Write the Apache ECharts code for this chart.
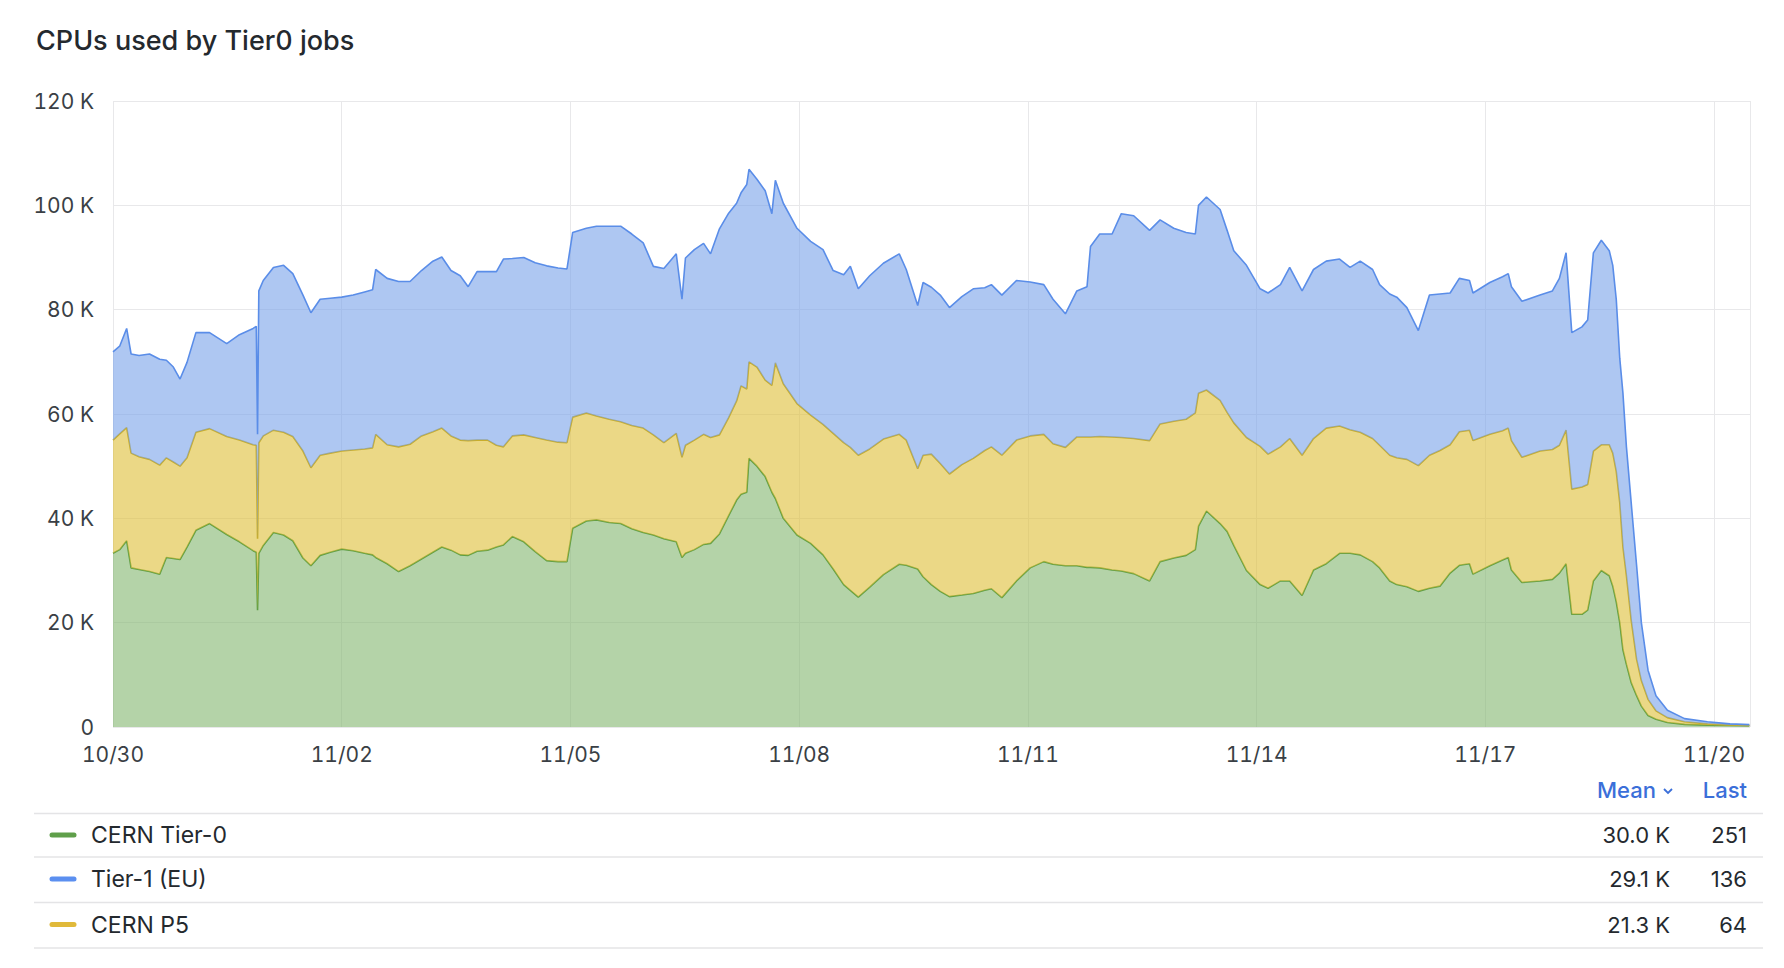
<!DOCTYPE html>
<html>
<head>
<meta charset="utf-8">
<script src="https://cdn.jsdelivr.net/npm/echarts@6/dist/echarts.min.js"></script>
<style>
html,body{margin:0;padding:0;background:#fff;}
#chart{width:1784px;height:968px;}
#chart text{font-variant-numeric: tabular-nums; font-feature-settings: "tnum" 1;}
</style>
</head>
<body>
<div id="chart"></div>
<script>
// Hours since 10/30 00:00
const hours = [0,2.1,4.3,5.7,8.2,11.5,14.7,16.8,19.0,21.1,23.3,26.1,30.4,35.8,39.8,44.1,45.1,45.5,45.9,47.3,50.5,53.7,56.6,59.8,62.3,65.2,68.4,72.0,75.6,79.2,81.7,82.7,86.3,89.9,93.5,97.1,100.7,103.5,106.4,109.3,111.8,114.6,117.9,120.7,122.9,125.7,129.3,132.9,136.5,140.1,142.9,144.7,149.0,152.2,156.2,159.8,163.3,166.9,170.1,173.4,177.3,179.1,180.2,183.0,185.9,188.1,190.9,193.8,196.3,197.7,199.5,200.2,202.7,205.3,207.4,208.5,211.0,215.3,219.6,223.5,226.7,230.0,232.1,234.6,238.2,242.5,247.5,249.7,253.3,255.0,257.6,260.4,263.3,267.2,270.8,274.4,276.5,279.8,284.4,288.7,293.0,295.9,299.8,303.4,306.6,307.7,310.6,314.5,317.4,321.3,326.3,329.6,333.9,337.8,340.7,341.7,344.2,348.5,350.7,352.8,356.8,361.1,363.6,367.5,370.4,374.3,377.9,381.9,386.1,389.4,392.6,396.5,398.7,401.9,404.1,407.3,410.9,414.4,417.7,420.9,423.8,427.0,428.1,433.4,437.4,439.2,440.2,443.5,449.2,453.1,455.3,457.4,459.2,462.4,464.2,466.0,468.5,471.0,472.1,473.2,474.3,475.3,476.4,477.9,479.6,481.1,483.2,485.7,489.3,494.7,501.9,509.0,515.1];

// CPUs (thousands)
const cernTier0 = [33.3,34.0,35.7,30.5,30.2,29.8,29.3,32.5,32.3,32.1,34.5,37.7,39.0,36.9,35.5,33.8,33.5,22.4,33.3,34.8,37.3,36.8,35.7,32.4,30.9,32.9,33.5,34.1,33.8,33.3,33.0,32.5,31.3,29.8,30.9,32.2,33.5,34.5,33.9,33.0,32.9,33.7,33.9,34.5,34.9,36.5,35.5,33.6,31.9,31.7,31.7,38.1,39.5,39.7,39.2,39.0,38.0,37.3,36.8,36.1,35.5,32.5,33.3,34.0,35.0,35.2,37.0,40.5,43.5,44.6,45.0,51.5,50.0,48.0,45.0,43.8,40.0,36.8,35.2,33.0,30.3,27.3,26.2,24.9,26.8,29.2,31.2,31.0,30.3,28.8,27.3,26.0,25.0,25.3,25.6,26.2,26.5,24.8,28.0,30.5,31.7,31.2,30.9,30.9,30.6,30.6,30.5,30.1,29.9,29.4,28.0,31.7,32.4,32.9,34.0,38.5,41.4,39.0,37.5,34.8,30.0,27.3,26.6,28.0,28.0,25.2,30.1,31.3,33.3,33.3,33.0,31.7,30.5,28.0,27.3,26.9,26.0,26.6,27.0,29.5,31.0,31.3,29.3,30.9,32.0,32.5,30.1,27.7,28.0,28.3,29.5,31.3,21.6,21.6,22.4,28.0,30.0,29.0,27.0,24.0,20.0,14.8,12.0,8.5,6.0,4.0,2.2,1.5,0.85,0.5,0.35,0.28,0.251];
const cernP5 = [21.7,22.2,21.7,22.0,21.6,21.5,20.9,19.1,18.5,17.9,17.1,18.8,18.2,18.8,19.5,20.3,20.5,13.7,21.2,21.0,19.6,19.7,20.0,20.5,18.8,19.2,19.0,18.8,19.3,20.0,20.5,23.6,22.8,23.9,23.3,23.6,23.1,22.8,21.9,22.0,22.0,21.3,21.1,19.5,18.8,19.3,20.5,21.9,23.1,22.9,22.8,21.3,20.7,19.9,19.8,19.5,19.8,20.0,19.2,18.4,20.8,19.2,20.7,21.0,21.1,20.3,19.0,18.8,19.0,20.8,19.8,18.5,19.0,18.5,20.5,26.0,25.8,25.2,24.6,25.0,26.0,27.2,27.4,27.2,26.5,26.0,24.9,24.0,19.2,23.3,25.0,24.5,23.5,25.0,25.9,26.8,27.2,27.3,27.0,25.3,24.4,23.1,22.7,24.7,25.0,25.0,25.2,25.5,25.6,25.9,26.9,26.4,26.2,26.1,26.2,25.5,23.2,23.6,22.8,23.5,25.5,26.5,25.7,25.7,27.3,26.9,25.2,26.0,24.4,23.7,23.5,23.6,23.5,24.1,24.3,24.4,24.1,25.5,26.0,24.6,25.6,25.6,25.6,25.2,24.8,24.8,24.8,24.0,24.9,24.9,24.5,25.6,24.0,24.4,24.1,24.9,24.1,25.1,25.5,25.0,23.0,19.7,17.0,12.0,7.0,4.9,3.1,1.6,0.95,0.5,0.25,0.12,0.064];
const tier1EU = [16.9,16.8,19.0,19.0,19.4,20.2,20.3,18.7,18.2,16.7,18.3,19.1,18.4,17.8,20.2,22.3,22.8,20.0,29.1,29.8,31.2,32.0,31.2,29.9,29.7,29.9,29.7,29.5,29.7,30.1,30.3,31.6,31.9,31.7,31.2,31.7,32.7,32.8,31.7,31.5,29.5,32.3,32.3,33.3,36.0,34.0,34.0,33.5,33.4,33.4,33.3,35.4,35.4,36.4,37.0,37.5,36.7,35.5,32.3,33.4,34.4,30.3,35.9,36.5,36.6,35.2,39.5,39.2,37.9,37.0,39.2,36.9,36.0,36.3,32.9,35.0,34.6,33.6,33.3,33.5,31.2,32.2,34.7,31.9,33.2,33.7,34.6,32.7,31.3,33.1,32.0,32.3,31.9,32.2,32.5,31.2,31.1,30.7,30.6,29.5,28.7,27.7,25.6,28.0,28.8,36.5,38.8,38.9,42.9,42.7,40.3,39.1,37.0,35.8,34.3,36.0,37.0,36.6,34.9,33.0,33.0,30.2,30.9,31.1,32.8,31.5,32.4,32.0,32.0,31.1,32.8,32.4,30.8,30.9,30.8,29.1,25.9,30.7,30.0,29.1,29.4,28.7,28.3,29.1,29.5,29.6,29.5,29.9,29.9,30.4,32.0,34.0,30.0,30.7,31.5,38.0,39.2,37.2,36.0,33.0,27.7,29.5,24.7,22.5,18.0,11.1,5.6,2.9,1.4,0.6,0.4,0.2,0.136];

const seriesNames = ['CERN Tier-0', 'CERN P5', 'Tier-1 (EU)'];
const yTicks = [0, 20, 40, 60, 80, 100, 120];
const legendNames = ['CERN Tier-0', 'Tier-1 (EU)', 'CERN P5'];
const legendMean = ['30.0 K', '29.1 K', '21.3 K'];
const legendLast = ['251', '136', '64'];

const lineColors = {'CERN Tier-0': '#5e9e45', 'CERN P5': '#c8ad2c', 'Tier-1 (EU)': '#5a8de8'};
const fillColors = {'CERN Tier-0': 'rgba(130,182,110,0.6)', 'CERN P5': 'rgba(222,190,53,0.6)', 'Tier-1 (EU)': 'rgba(120,162,233,0.6)'};
const dashColors = {'CERN Tier-0': '#5f9f4a', 'Tier-1 (EU)': '#5b8ff0', 'CERN P5': '#e0b93a'};

const START = Date.UTC(2024, 9, 30);
const SPAN_H = 515.3;
const HOUR = 3600000;

function zip(vals) { return hours.map((h, i) => [START + h * HOUR, vals[i]]); }

function fmtDate(h) {
  const d = new Date(START + h * HOUR);
  const m = String(d.getUTCMonth() + 1).padStart(2, '0');
  const dd = String(d.getUTCDate()).padStart(2, '0');
  return m + '/' + dd;
}

const FONT = 'Inter, "Noto Sans", sans-serif';
const TXT = '#24292e';

const chart = echarts.init(document.getElementById('chart'), null, {renderer: 'svg'});

const seriesData = [cernTier0, cernP5, tier1EU];
const series = seriesNames.map((name, i) => ({
  name: name,
  type: 'line',
  xAxisIndex: 0,
  stack: 'total',
  data: zip(seriesData[i]),
  showSymbol: false,
  symbol: 'none',
  smooth: false,
  lineStyle: {width: 1.6, color: lineColors[name]},
  itemStyle: {color: lineColors[name]},
  areaStyle: {color: fillColors[name], opacity: 1},
  emphasis: {disabled: true},
  animation: false,
  z: 2 + i
}));

// legend table graphics
const graphics = [];
const tableLeft = 34, tableRight = 1763;
const lineYs = [813.5, 857, 902.5, 948];
const rowYs = [835, 879, 924.5];
lineYs.forEach(y => graphics.push({
  type: 'line', shape: {x1: tableLeft, y1: y, x2: tableRight, y2: y},
  style: {stroke: '#e4e4e6', lineWidth: 1.5}, silent: true
}));
graphics.push({type: 'text', x: 1656, y: 790, style: {text: 'Mean', font: '500 22px ' + FONT, fill: '#3b6fd9', textAlign: 'right', textVerticalAlign: 'middle'}});
graphics.push({type: 'polyline', shape: {points: [[1664, 789], [1668, 793], [1672, 789]]}, style: {stroke: '#3b6fd9', lineWidth: 1.8, fill: null}});
graphics.push({type: 'text', x: 1747, y: 790, style: {text: 'Last', font: '500 22px ' + FONT, fill: '#3b6fd9', textAlign: 'right', textVerticalAlign: 'middle'}});
legendNames.forEach((name, i) => {
  const y = rowYs[i];
  graphics.push({type: 'line', shape: {x1: 52, y1: y, x2: 74, y2: y}, style: {stroke: dashColors[name], lineWidth: 5, lineCap: 'round'}});
  graphics.push({type: 'text', x: 91, y: y, style: {text: name, font: '23px ' + FONT, fill: TXT, textAlign: 'left', textVerticalAlign: 'middle'}});
  graphics.push({type: 'text', x: 1670, y: y, style: {text: legendMean[i], font: '22px ' + FONT, fill: TXT, textAlign: 'right', textVerticalAlign: 'middle'}});
  graphics.push({type: 'text', x: 1747, y: y, style: {text: legendLast[i], font: '22px ' + FONT, fill: TXT, textAlign: 'right', textVerticalAlign: 'middle'}});
});

chart.setOption({
  animation: false,
  backgroundColor: '#ffffff',
  title: {
    text: 'CPUs used by Tier0 jobs',
    left: 31, top: 22,
    textStyle: {fontFamily: FONT, fontSize: 27, fontWeight: 500, color: TXT}
  },
  grid: {left: 113, right: 34, top: 101, bottom: 241, containLabel: false},
  xAxis: [{
    type: 'time',
    min: START, max: START + SPAN_H * HOUR,
    show: false
  }, {
    type: 'value',
    min: 0, max: SPAN_H, interval: 72,
    position: 'bottom',
    axisLine: {show: false},
    axisTick: {show: false},
    splitLine: {show: true, lineStyle: {color: '#e8e8ea', width: 1}},
    axisLabel: {
      margin: 17,
      color: '#3a3f45',
      fontFamily: FONT, fontSize: 21,
      formatter: v => fmtDate(v),
      showMinLabel: true
    }
  }],
  yAxis: {
    type: 'value',
    min: yTicks[0], max: yTicks[yTicks.length - 1], interval: 20,
    axisLine: {show: false},
    axisTick: {show: false},
    splitLine: {show: true, lineStyle: {color: '#e8e8ea', width: 1}},
    axisLabel: {
      margin: 19,
      color: '#3a3f45',
      fontFamily: FONT, fontSize: 21,
      formatter: v => v === 0 ? '0' : v + ' K'
    }
  },
  series: series,
  graphic: graphics
});
</script>
</body>
</html>
